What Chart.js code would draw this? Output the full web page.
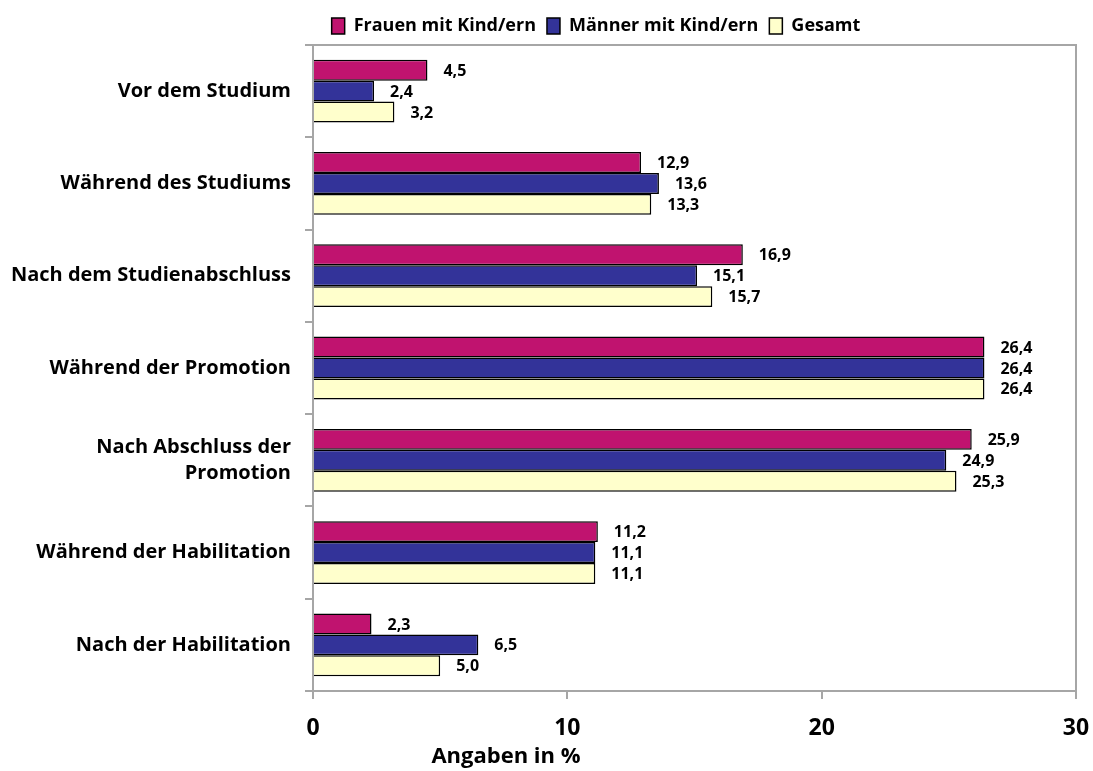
<!DOCTYPE html>
<html>
<head>
<meta charset="utf-8">
<script src="https://cdn.jsdelivr.net/npm/chart.js@4"></script>
<style>
  body { margin: 0; background: #fff; }
  #wrap { width: 1093px; height: 771px; position: relative; }
</style>
</head>
<body>
<div id="wrap"><canvas id="myChart"></canvas></div>
<script>
    // Data for the chart
    const categories = [
        'Vor dem Studium',
        'Während des Studiums',
        'Nach dem Studienabschluss',
        'Während der Promotion',
        ['Nach Abschluss der', 'Promotion'],
        'Während der Habilitation',
        'Nach der Habilitation'
    ];
    const frauen = [4.5, 12.9, 16.9, 26.4, 25.9, 11.2, 2.3];
    const maenner = [2.4, 13.6, 15.1, 26.4, 24.9, 11.1, 6.5];
    const gesamt = [3.2, 13.3, 15.7, 26.4, 25.3, 11.1, 5.0];
    const xTicks = [0, 10, 20, 30];

    const font = '"Open Sans", Lato, sans-serif';

    // value labels next to each bar, decimal comma
    const valueLabels = {
        id: 'valueLabels',
        afterDatasetsDraw(chart) {
            const ctx = chart.ctx;
            ctx.save();
            ctx.font = 'bold 16px ' + font;
            ctx.fillStyle = '#000';
            ctx.textBaseline = 'middle';
            chart.data.datasets.forEach((ds, i) => {
                chart.getDatasetMeta(i).data.forEach((bar, j) => {
                    ctx.fillText(ds.data[j].toFixed(1).replace('.', ','), bar.x + 16, bar.y + 1);
                });
            });
            ctx.restore();
        }
    };

    // gray frame around the plot area + axis title
    const frame = {
        id: 'frame',
        afterLayout(chart) {
            // legend sits a bit right of centre in the original
            chart.legend.left += 58;
            chart.legend.right += 58;
        },
        beforeDatasetsDraw(chart) {
            const a = chart.chartArea;
            const ctx = chart.ctx;
            ctx.save();
            ctx.strokeStyle = '#a6a6a6';
            ctx.lineWidth = 2;
            ctx.beginPath();
            ctx.moveTo(a.left, a.top);
            ctx.lineTo(a.right, a.top);
            ctx.lineTo(a.right, a.bottom);
            ctx.stroke();
            ctx.restore();
        },
        afterDraw(chart) {
            const ctx = chart.ctx;
            const a = chart.chartArea;
            ctx.save();
            ctx.font = 'bold 22px ' + font;
            ctx.fillStyle = '#000';
            ctx.textAlign = 'center';
            ctx.textBaseline = 'middle';
            ctx.fillText('Angaben in %', a.left + 193, 757);
            ctx.restore();
        }
    };

    const ctx = document.getElementById('myChart').getContext('2d');
    const myChart = new Chart(ctx, {
        type: 'bar',
        data: {
            labels: categories,
            datasets: [
                { label: 'Frauen mit Kind/ern', data: frauen, backgroundColor: '#c0136f', borderColor: '#000', borderWidth: 1.5 },
                { label: 'Männer mit Kind/ern', data: maenner, backgroundColor: '#333399', borderColor: '#000', borderWidth: 1.5 },
                { label: 'Gesamt', data: gesamt, backgroundColor: '#ffffcc', borderColor: '#000', borderWidth: 1.5 }
            ]
        },
        options: {
            indexAxis: 'y',
            responsive: true,
            maintainAspectRatio: false,
            animation: false,
            categoryPercentage: 0.68,
            barPercentage: 1.0,
            layout: { padding: { left: 0, right: 17, top: 6, bottom: 0 } },
            plugins: {
                legend: {
                    position: 'top',
                    labels: {
                        boxWidth: 13,
                        boxHeight: 16,
                        padding: 11,
                        color: '#000',
                        font: { family: font, size: 18, weight: 'bold' }
                    }
                },
                tooltip: { enabled: false }
            },
            scales: {
                x: {
                    min: 0,
                    max: 30,
                    afterBuildTicks(scale) { scale.ticks = xTicks.map(v => ({ value: v })); },
                    afterFit(scale) { scale.height = 80; scale.paddingLeft = 0; scale.paddingRight = 0; },
                    grid: { drawOnChartArea: false, drawTicks: true, tickLength: 8, color: '#a6a6a6', lineWidth: 2 },
                    border: { color: '#a6a6a6', width: 2 },
                    ticks: { color: '#000', padding: 16, font: { family: font, size: 23, weight: 'bold' } }
                },
                y: {
                    afterFit(scale) { scale.width = 313; },
                    grid: { drawOnChartArea: false, drawTicks: true, tickLength: 8, color: '#a6a6a6', lineWidth: 2 },
                    border: { color: '#a6a6a6', width: 2 },
                    ticks: { color: '#000', padding: 14, font: { family: font, size: 20, weight: 'bold', lineHeight: 1.3 } }
                }
            }
        },
        plugins: [valueLabels, frame]
    });
</script>
</body>
</html>
